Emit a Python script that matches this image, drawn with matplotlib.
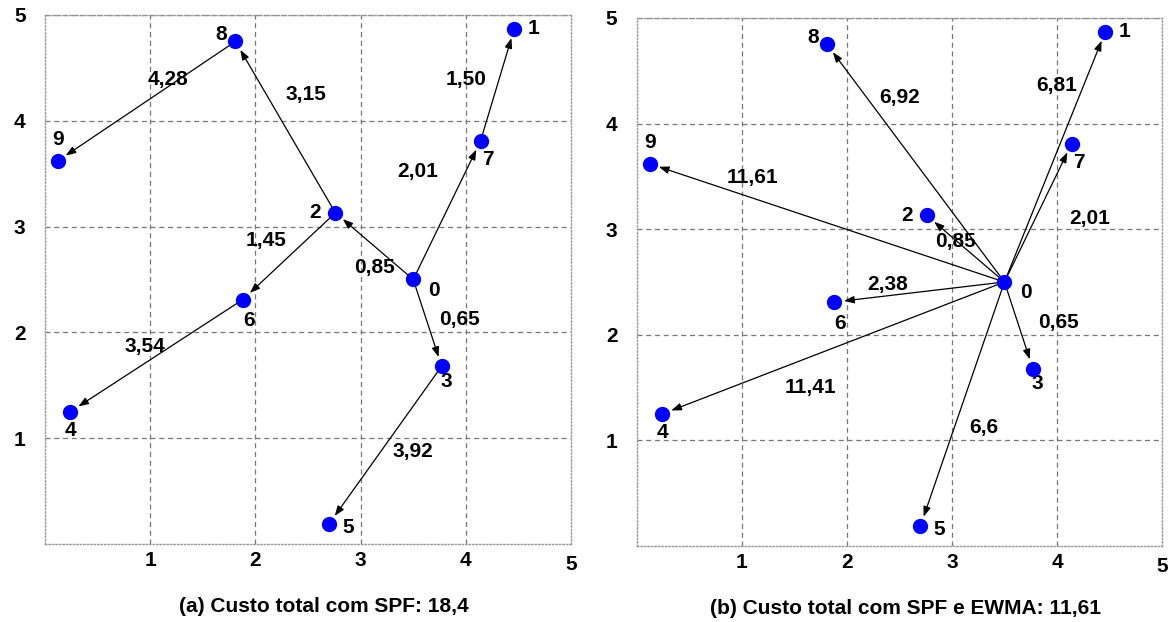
"""
Two panels: routing trees over 10 nodes, SPF vs SPF+EWMA
"""
import numpy as np
import matplotlib
matplotlib.use("Agg")
import matplotlib.pyplot as plt

#%%
#node coordinates (same in both panels)
node_x = [3.50, 4.46, 2.76, 3.77, 0.24, 2.70, 1.88, 4.14, 1.81, 0.12]
node_y = [2.50, 4.87, 3.13, 1.68, 1.25, 0.19, 2.31, 3.81, 4.75, 3.62]

#offset of each node label, in pixels (dx right, dy up)
lab_dx = [21, 19, -20, 5, 0, 19, 6, 7, -14, 0]
lab_dy = [-11, 0, 0, -15, -19, -4, -21, -19, 7, 21]

#panel (a): edges (from, to), costs and where the cost text sits
edges_a = [(0, 2), (0, 7), (0, 3), (7, 1), (2, 8), (8, 9), (2, 6), (6, 4), (3, 5)]
costs_a = ["0,85", "2,01", "0,65", "1,50", "3,15", "4,28", "1,45", "3,54", "3,92"]
cost_xa = [3.13, 3.54, 3.94, 4.00, 2.48, 1.17, 2.10, 0.95, 3.50]
cost_ya = [2.61, 3.52, 2.12, 4.39, 4.25, 4.39, 2.87, 1.87, 0.87]

#panel (b): everything goes out of node 0
edges_b = [(0, 8), (0, 1), (0, 9), (0, 7), (0, 2), (0, 6), (0, 3), (0, 4), (0, 5)]
costs_b = ["6,92", "6,81", "11,61", "2,01", "0,85", "2,38", "0,65", "11,41", "6,6"]
cost_xb = [2.50, 4.00, 1.10, 4.31, 3.03, 2.39, 4.01, 1.65, 3.30]
cost_yb = [4.25, 4.36, 3.49, 3.10, 2.88, 2.48, 2.12, 1.50, 1.12]

captions = ["(a) Custo total com SPF: 18,4", "(b) Custo total com SPF e EWMA: 11,61"]
cap_x = [0.530, 0.512]
ticks = [1, 2, 3, 4]

plt.rcParams['font.family'] = ['Liberation Sans', 'DejaVu Sans']
plt.rcParams['font.weight'] = 'bold'
fs = 15

#%%
fig = plt.figure(figsize=(11.75, 6.22), dpi=100)
ax_a = fig.add_axes([0.0383, 0.1254, 0.4477, 0.8505])
ax_b = fig.add_axes([0.5421, 0.1222, 0.4468, 0.8489])

panels = [(ax_a, edges_a, costs_a, cost_xa, cost_ya),
          (ax_b, edges_b, costs_b, cost_xb, cost_yb)]

for k, (ax, edges, costs, cx, cy) in enumerate(panels):
    ax.set_xlim(0, 5)
    ax.set_ylim(0, 5)
    ax.set_xticks(ticks)
    ax.set_yticks(ticks + [5])
    ax.tick_params(length=0, labelsize=fs)
    ax.tick_params(axis='x', pad=5)
    ax.tick_params(axis='y', pad=14)
    for lab in ax.get_xticklabels() + ax.get_yticklabels():
        lab.set_fontweight('bold')
    ax.text(5, -0.1, "5", ha='center', va='top', fontsize=fs, fontweight='bold')
    ax.grid(True, color='#777777', linestyle=(0, (4, 3)), linewidth=0.9)
    for s in ax.spines.values():
        s.set_linestyle((0, (1, 1.5)))
        s.set_color('#999999')
        s.set_linewidth(1.0)

    #arrows
    for (i, j), c, tx, ty in zip(edges, costs, cx, cy):
        ax.annotate("", xy=(node_x[j], node_y[j]), xytext=(node_x[i], node_y[i]),
                    arrowprops=dict(arrowstyle='-|>,head_length=0.6,head_width=0.22',
                                    color='black', lw=0.9, shrinkA=0, shrinkB=7))
        ax.text(tx, ty, c, ha='center', va='center', fontsize=fs, fontweight='bold')

    #nodes
    ax.plot(node_x, node_y, 'o', color='#0000ff', markersize=10, zorder=5)
    for n in range(len(node_x)):
        ax.annotate(str(n), (node_x[n], node_y[n]), xytext=(lab_dx[n] * 0.72, lab_dy[n] * 0.72),
                    textcoords='offset points', ha='center', va='center',
                    fontsize=fs, fontweight='bold')

    ax.text(cap_x[k], -0.119, captions[k], transform=ax.transAxes, ha='center', va='center',
            fontsize=fs, fontweight='bold')

fig.savefig("out.png", dpi=100)
